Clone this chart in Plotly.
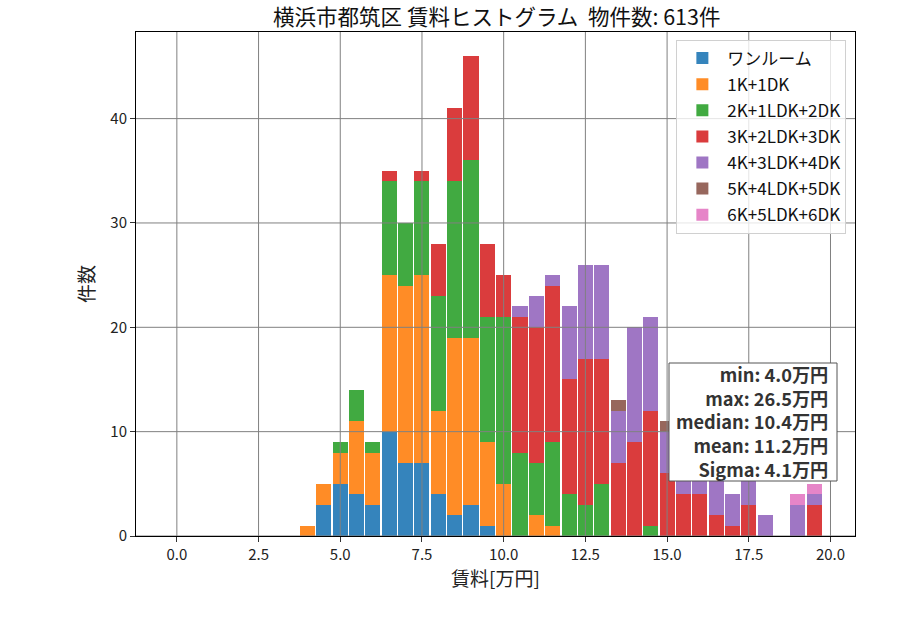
import plotly.graph_objects as go

bins = [4.0, 4.5, 5.0, 5.5, 6.0, 6.5, 7.0, 7.5, 8.0, 8.5, 9.0, 9.5, 10.0, 10.5, 11.0, 11.5,
        12.0, 12.5, 13.0, 13.5, 14.0, 14.5, 15.0, 15.5, 16.0, 16.5, 17.0, 17.5, 18.0, 18.5, 19.0, 19.5]

categories = ["ワンルーム", "1K+1DK", "2K+1LDK+2DK", "3K+2LDK+3DK", "4K+3LDK+4DK", "5K+4LDK+5DK", "6K+5LDK+6DK"]

one_room = [0, 3, 5, 4, 3, 10, 7, 7, 4, 2, 3, 1, 0, 0, 0, 0,
            0, 0, 0, 0, 0, 0, 0, 0, 0, 0, 0, 0, 0, 0, 0, 0]
k1 = [1, 2, 3, 7, 5, 15, 17, 18, 8, 17, 16, 8, 5, 0, 2, 1,
      0, 0, 0, 0, 0, 0, 0, 0, 0, 0, 0, 0, 0, 0, 0, 0]
k2 = [0, 0, 1, 3, 1, 9, 6, 9, 11, 15, 17, 12, 16, 8, 5, 8,
      4, 3, 5, 0, 0, 1, 0, 0, 0, 0, 0, 0, 0, 0, 0, 0]
k3 = [0, 0, 0, 0, 0, 1, 0, 1, 5, 7, 10, 7, 4, 13, 13, 15,
      11, 14, 12, 7, 9, 11, 6, 4, 4, 2, 1, 3, 0, 0, 0, 3]
k4 = [0, 0, 0, 0, 0, 0, 0, 0, 0, 0, 0, 0, 0, 1, 3, 1,
      7, 9, 9, 5, 11, 9, 4, 8, 8, 8, 3, 5, 2, 0, 3, 1]
k5 = [0, 0, 0, 0, 0, 0, 0, 0, 0, 0, 0, 0, 0, 0, 0, 0,
      0, 0, 0, 1, 0, 0, 1, 0, 0, 0, 0, 0, 0, 0, 0, 0]
k6 = [0, 0, 0, 0, 0, 0, 0, 0, 0, 0, 0, 0, 0, 0, 0, 0,
      0, 0, 0, 0, 0, 0, 0, 0, 0, 0, 0, 0, 0, 0, 1, 1]

series = [one_room, k1, k2, k3, k4, k5, k6]
colors = ["#3584bc", "#ff8c26", "#41aa41", "#da3c3d", "#9f76c4", "#97675d", "#e685c8"]

xticks = [0.0, 2.5, 5.0, 7.5, 10.0, 12.5, 15.0, 17.5, 20.0]
yticks = [0, 10, 20, 30, 40]

title_text = "横浜市都筑区 賃料ヒストグラム  物件数: 613件"
stats_lines = ["min: 4.0万円", "max: 26.5万円", "median: 10.4万円", "mean: 11.2万円", "Sigma: 4.1万円"]

FONT = "Noto Sans CJK JP"

# plot-area geometry in pixels (for placing the stats box)
L, R, T, B = 136, 855, 32, 536
PW, PH = R - L, B - T


def px_x(p):
    return (p - L) / PW


def px_y(p):
    return (B - p) / PH


fig = go.Figure()
for name, vals, col in zip(categories, series, colors):
    fig.add_trace(go.Bar(x=bins, y=vals, name=name, marker=dict(color=col, line=dict(width=0)),
                         legendgroup=name))

shapes = []
for xv in xticks:
    shapes.append(dict(type="line", xref="x", yref="paper", x0=xv, x1=xv, y0=0, y1=1,
                       line=dict(color="#808080", width=1), layer="above"))
for yv in yticks:
    shapes.append(dict(type="line", xref="paper", yref="y", x0=0, x1=1, y0=yv, y1=yv,
                       line=dict(color="#808080", width=1), layer="above"))
# stats box
shapes.append(dict(type="rect", xref="paper", yref="paper",
                   x0=px_x(669), x1=px_x(837), y0=px_y(481), y1=px_y(363),
                   fillcolor="white", line=dict(color="#555555", width=1), layer="above"))

fig.update_layout(
    width=900, height=630,
    margin=dict(l=L, r=900 - R, t=T, b=630 - B),
    barmode="stack", bargap=0.08,
    plot_bgcolor="white", paper_bgcolor="white",
    font=dict(family=FONT, color="#222222", size=15),
    title=dict(text=title_text, x=0.552, xanchor="center", y=1 - 17 / 630, yanchor="middle",
               yref="container", font=dict(size=21.5, color="#111111")),
    shapes=shapes,
    legend=dict(x=0.988, y=0.985, xanchor="right", yanchor="top",
                bgcolor="rgba(255,255,255,0.8)", bordercolor="#d0d0d0", borderwidth=1,
                font=dict(size=17, color="#111111"), traceorder="grouped", tracegroupgap=1,
                itemwidth=40),
    xaxis=dict(range=[-1.25, 20.75], tickvals=xticks, tickformat=".1f", showgrid=False,
               zeroline=False, showline=True, linecolor="black", linewidth=1, mirror=True,
               ticks="outside", ticklen=5, tickcolor="#333333",
               title=dict(text="賃料[万円]", font=dict(size=19), standoff=6)),
    yaxis=dict(range=[0, 48.3], tickvals=yticks, showgrid=False, zeroline=False,
               showline=True, linecolor="black", linewidth=1, mirror=True,
               ticks="outside", ticklen=5, tickcolor="#333333",
               title=dict(text="件数", font=dict(size=19), standoff=10)),
)

fig.add_annotation(
    xref="paper", yref="paper", x=px_x(830), y=px_y(421),
    xanchor="right", yanchor="middle", align="right", showarrow=False,
    text="<br>".join("<b>" + s + "</b>" for s in stats_lines),
    font=dict(size=18.2, color="#333333", family=FONT),
)

fig.write_html("out.html")
